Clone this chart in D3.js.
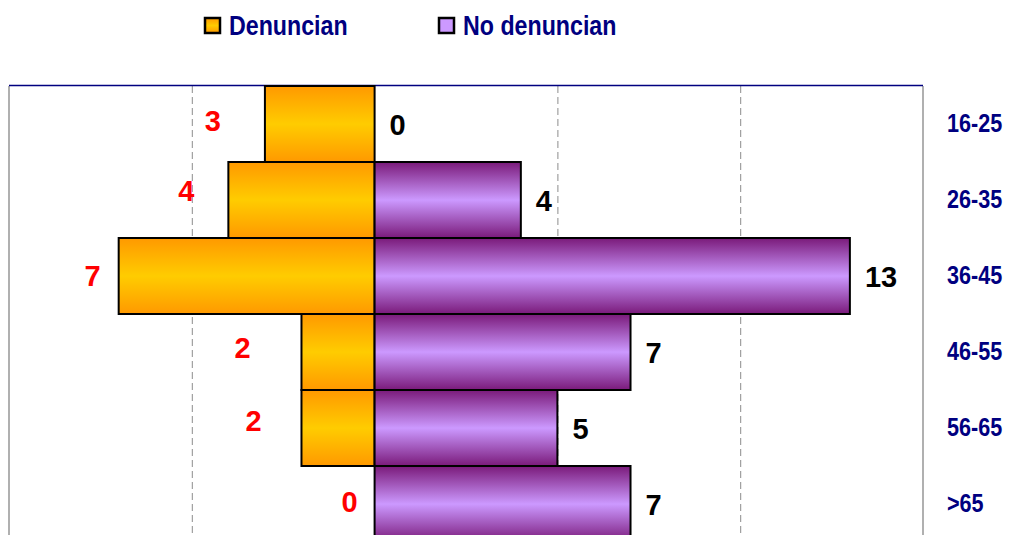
<!DOCTYPE html>
<html><head><meta charset="utf-8">
<script src="https://cdn.jsdelivr.net/npm/d3@7"></script>
<style>
html,body{margin:0;padding:0;background:#fff;}
svg{display:block;font-family:"Liberation Sans",Arial,sans-serif;}
</style></head>
<body><svg id="c" width="1010" height="535"></svg>
<script>
const categories = ["16-25","26-35","36-45","46-55","56-65",">65"];
const denuncian = [3,4,7,2,2,0];
const noDenuncian = [0,4,13,7,5,7];
const seriesNames = ["Denuncian","No denuncian"];
const gridTicks = [-5,5,10];
// hand-placed label nudges (Excel-style manual placement)
const leftDx = [-52,-42,-26,-59,-48,-25];
const leftDy = [-3,-9,0,-4,-7,-2];

const svg = d3.select("#c");
const x = d3.scaleLinear().domain([-10,15]).range([9,923]);
const y = d3.scaleBand().domain(categories).range([86,542]).padding(0);

const defs = svg.append("defs");
function grad(id, edge, mid){
  const g = defs.append("linearGradient").attr("id",id).attr("x1",0).attr("y1",0).attr("x2",0).attr("y2",1);
  g.append("stop").attr("offset","0%").attr("stop-color",edge);
  g.append("stop").attr("offset","50%").attr("stop-color",mid);
  g.append("stop").attr("offset","100%").attr("stop-color",edge);
}
grad("gOr","#FF9900","#FFCC00");
grad("gPu","#7A1A7A","#CC99FF");

// gridlines
const grid = svg.append("g").attr("transform","translate(0,86)")
  .call(d3.axisTop(x).tickValues(gridTicks).tickSize(-460).tickFormat(""));
grid.select(".domain").remove();
grid.selectAll("line").attr("stroke","#8c8c8c").attr("stroke-width",1).attr("stroke-dasharray","7,4");

// frame
svg.append("line").attr("x1",x(-10)).attr("x2",x(-10)).attr("y1",86).attr("y2",542).attr("stroke","#b0b0b0").attr("stroke-width",2);
svg.append("line").attr("x1",x(15)).attr("x2",x(15)).attr("y1",86).attr("y2",542).attr("stroke","#b0b0b0").attr("stroke-width",2);
svg.append("line").attr("x1",x(-10)).attr("x2",x(15)).attr("y1",85.5).attr("y2",85.5).attr("stroke","#000080").attr("stroke-width",1.5);

// bars
svg.append("g").selectAll("rect").data(categories).join("rect")
  .filter((d,i)=>denuncian[i]>0)
  .attr("x",(d,i)=>x(-denuncian[categories.indexOf(d)]))
  .attr("y",d=>y(d))
  .attr("width",d=>x(0)-x(-denuncian[categories.indexOf(d)]))
  .attr("height",y.bandwidth())
  .attr("fill","url(#gOr)").attr("stroke","#000").attr("stroke-width",2);
svg.append("g").selectAll("rect").data(categories).join("rect")
  .filter((d,i)=>noDenuncian[i]>0)
  .attr("x",x(0))
  .attr("y",d=>y(d))
  .attr("width",d=>x(noDenuncian[categories.indexOf(d)])-x(0))
  .attr("height",y.bandwidth())
  .attr("fill","url(#gPu)").attr("stroke","#000").attr("stroke-width",2);

// value labels
svg.append("g").selectAll("text").data(categories).join("text")
  .attr("x",(d,i)=>x(-denuncian[i])+leftDx[i])
  .attr("y",(d,i)=>y(d)+y.bandwidth()/2+leftDy[i])
  .attr("text-anchor","middle").attr("dominant-baseline","central")
  .attr("font-size",29).attr("font-weight","bold").attr("fill","#FF0000")
  .text((d,i)=>denuncian[i]);
svg.append("g").selectAll("text").data(categories).join("text")
  .attr("x",(d,i)=>x(noDenuncian[i])+15)
  .attr("y",(d,i)=>y(d)+y.bandwidth()/2+1)
  .attr("text-anchor","start").attr("dominant-baseline","central")
  .attr("font-size",29).attr("font-weight","bold").attr("fill","#000")
  .text((d,i)=>noDenuncian[i]);

// category axis on right (condensed bold, like the original narrow font)
const ax = svg.append("g").attr("transform","translate(947,0)")
  .call(d3.axisRight(y).tickSize(0).tickPadding(0));
ax.select(".domain").remove();
ax.selectAll("text").attr("text-anchor","start").attr("x",0).attr("dy",null)
  .attr("dominant-baseline","central")
  .attr("font-family","'Liberation Sans',Arial,sans-serif")
  .attr("font-size",26).attr("font-weight","bold").attr("fill","#000080")
  .attr("transform","translate(0,-1) scale(0.83,1)");

// legend
const legX = [204,438];
const leg = svg.append("g").selectAll("g").data(seriesNames).join("g")
  .attr("transform",(d,i)=>`translate(${legX[i]},0)`);
leg.append("rect").attr("x",1).attr("y",18).attr("width",15).attr("height",15)
  .attr("fill",(d,i)=>i===0?"url(#gOr)":"#CC99FF").attr("stroke","#000").attr("stroke-width",2.5);
leg.append("text").attr("transform","translate(25,35) scale(0.86,1)")
  .attr("font-size",27).attr("font-weight","bold").attr("fill","#000080")
  .text(d=>d);
</script></body></html>
